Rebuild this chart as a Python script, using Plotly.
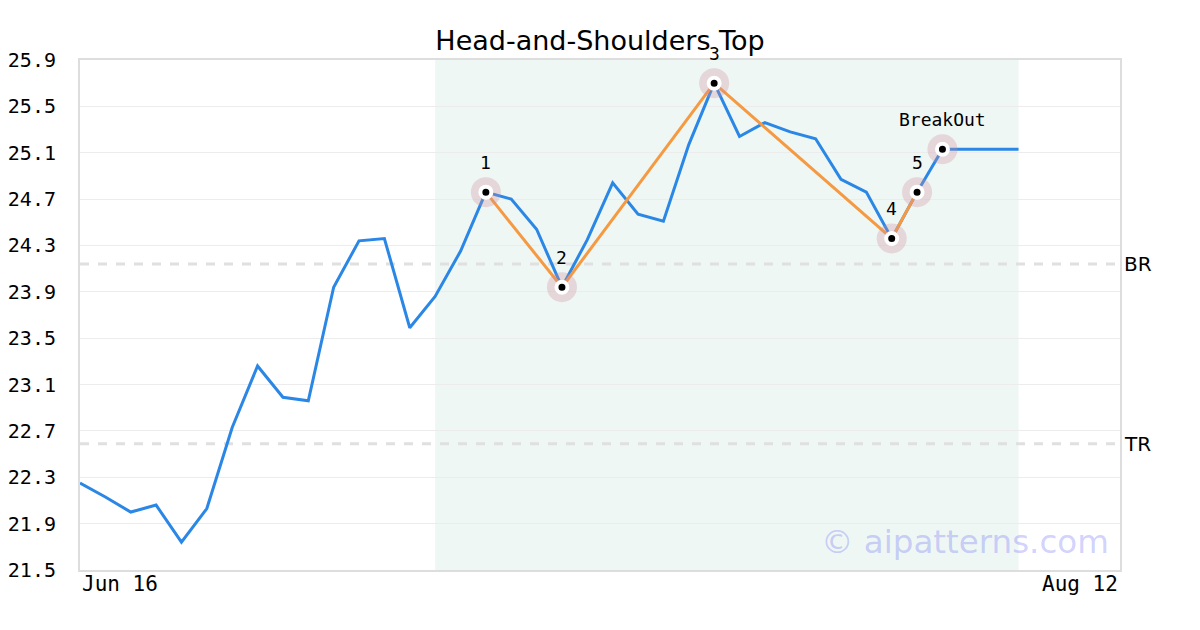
import plotly.graph_objects as go

# ---- data ----
closes = [22.25, 22.13, 22.00, 22.06, 21.74, 22.03, 22.73, 23.26, 22.99, 22.96,
          23.94, 24.34, 24.36, 23.59, 23.86, 24.25, 24.76, 24.70, 24.44, 23.94,
          24.35, 24.84, 24.57, 24.51, 25.17, 25.70, 25.24, 25.36, 25.28, 25.22,
          24.87, 24.76, 24.36, 24.76, 25.13, 25.13, 25.13, 25.13]
idx = list(range(len(closes)))
pattern_idx = [16, 19, 25, 32, 33]
pattern_labels = ["1", "2", "3", "4", "5"]
breakout_idx = 34
breakout_label = "BreakOut"
zone_start, zone_end = 14, 37
br_level = 24.14
tr_level = 22.59
x_tick_labels = ["Jun 16", "Aug 12"]
x_tick_pos = [0, 41]
y_ticks = [21.5, 21.9, 22.3, 22.7, 23.1, 23.5, 23.9, 24.3, 24.7, 25.1, 25.5, 25.9]

mono = "DejaVu Sans Mono"
sans = "DejaVu Sans"

fig = go.Figure()

fig.add_trace(go.Scatter(x=idx, y=closes, mode="lines",
                         line=dict(color="#2b87e6", width=3), hoverinfo="skip"))

fig.add_trace(go.Scatter(x=pattern_idx, y=[closes[i] for i in pattern_idx], mode="lines",
                         line=dict(color="#f59a42", width=3), hoverinfo="skip"))

mk_idx = pattern_idx + [breakout_idx]
mk_y = [closes[i] for i in mk_idx]
fig.add_trace(go.Scatter(x=mk_idx, y=mk_y, mode="markers",
                         marker=dict(size=30, color="rgba(205,140,160,0.3)", line=dict(width=0)),
                         hoverinfo="skip"))
fig.add_trace(go.Scatter(x=mk_idx, y=mk_y, mode="markers",
                         marker=dict(size=11, color="black", line=dict(width=4, color="white")),
                         hoverinfo="skip"))

# labels
for i, lab in zip(mk_idx, pattern_labels + [breakout_label]):
    fig.add_annotation(x=i, y=closes[i], text=lab, showarrow=False, yshift=30,
                       xanchor="center", yanchor="middle",
                       font=dict(family=mono, size=18, color="black"))

# pattern zone
fig.add_shape(type="rect", xref="x", yref="paper", x0=zone_start, x1=zone_end, y0=0, y1=1,
              fillcolor="#eef7f3", line=dict(width=0), layer="below")

# levels
for lvl, name in [(br_level, "BR"), (tr_level, "TR")]:
    fig.add_shape(type="line", xref="paper", yref="y", x0=0, x1=1, y0=lvl, y1=lvl,
                  line=dict(color="#e0e0e0", width=3, dash="dash"), layer="below")
    fig.add_annotation(x=1, xref="paper", y=lvl, yref="y", text=name, showarrow=False,
                       xanchor="left", yanchor="middle", xshift=2,
                       font=dict(family=sans, size=20, color="black"))

# x tick labels
for xp, t, anc in zip(x_tick_pos, x_tick_labels, ["left", "right"]):
    fig.add_annotation(x=xp, xref="x", y=0, yref="paper", text=t, showarrow=False,
                       xanchor=anc, yanchor="top", yshift=0,
                       font=dict(family=mono, size=21, color="black"))

# watermark
fig.add_annotation(x=1, xref="paper", y=0.055, yref="paper", text="© aipatterns.com",
                   showarrow=False, xanchor="right", yanchor="middle", xshift=-9,
                   font=dict(family=sans, size=32.5, color="rgba(100,100,250,0.3)"))

fig.update_layout(
    width=1200, height=630,
    margin=dict(l=72, r=88, t=52, b=68, autoexpand=False),
    paper_bgcolor="white", plot_bgcolor="white",
    showlegend=False,
    title=dict(text="Head-and-Shoulders Top", xref="paper", x=0.5, xanchor="center",
               y=1 - 33 / 630, yanchor="middle", automargin=False,
               font=dict(family=sans, size=27, color="black")),
)
fig.update_xaxes(range=[0, 41], showgrid=False, zeroline=False, showticklabels=False,
                 showline=True, mirror=True, linecolor="#dddddd", linewidth=2, automargin=False)
fig.update_yaxes(range=[21.5, 25.9], tickvals=y_ticks, ticktext=[f"{v:.1f}" for v in y_ticks],
                 showgrid=True, gridcolor="#ececec", gridwidth=1, zeroline=False,
                 showline=True, mirror=True, linecolor="#dddddd", linewidth=2,
                 ticks="", ticklabelstandoff=18, automargin=False,
                 tickfont=dict(family=mono, size=20, color="black"))

fig.write_html("out.html")
